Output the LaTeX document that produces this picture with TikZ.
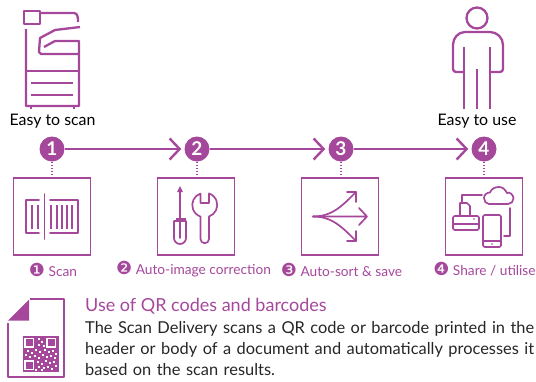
\documentclass[tikz,border=0pt]{standalone}
\usepackage{fontspec}
\setmainfont{Lato}
\newfontfamily\dingfont{DejaVu Sans}
\usetikzlibrary{arrows.meta, calc}
\definecolor{plum}{HTML}{A5489B}
\definecolor{inktext}{HTML}{262626}
\tikzset{
    stepdot/.style={circle, fill=plum, text=white, inner sep=0pt, minimum size=25pt, font=\bfseries\fontsize{19}{19}\selectfont},
    stepbox/.style={draw=plum, line width=1.7pt, minimum size=77pt, inner sep=0pt},
    steplabel/.style={text=plum, font=\fontsize{13.7}{15}\selectfont, inner sep=0pt},
    easylabel/.style={text=black, font=\fontsize{15.9}{18}\selectfont, inner sep=0pt},
    flow/.style={draw=plum, line width=2.8pt, shorten >=3pt, -{Straight Barb[length=10pt,width=21pt,line width=2.4pt]}},
    dots/.style={draw=plum, line width=1.3pt, dash pattern=on 1.3pt off 1.8pt},
    icon/.style={draw=plum, line width=1.7pt, line cap=round, line join=round},
    big icon/.style={draw=plum, line width=2.3pt, line join=round},
    thick icon/.style={draw=plum, line width=2.8pt},
}
\newcommand{\dingnum}[1]{{\dingfont\fontsize{18}{15}\selectfont #1}}
\begin{document}
\begin{tikzpicture}[x=1pt, y=-1pt]
    \useasboundingbox (0,0) rectangle (536,381);

    % steps
    \node[stepdot] (one) at (52,149) {1};
    \node[stepdot] (two) at (197,149) {2};
    \node[stepdot] (three) at (341,149) {3};
    \node[stepdot] (four) at (484,149) {4};
    \draw[flow] (one) -- (two);
    \draw[flow] (two) -- (three);
    \draw[flow] (three) -- (four);

    \node[stepbox] (scanbox) at (52,216.5) {};
    \node[stepbox] (fixbox) at (196,216.5) {};
    \node[stepbox] (sortbox) at (340,216.5) {};
    \node[stepbox] (sharebox) at (484,216.5) {};
    \draw[dots] (one) -- (scanbox);
    \draw[dots] (two) -- (two |- fixbox.north);
    \draw[dots] (three) -- (three |- sortbox.north);
    \draw[dots] (four) -- (sharebox);

    \node[easylabel] (easyscan) at (52.5,121) {Easy to scan};
    \node[easylabel] (easyuse) at (477,121) {Easy to use};

    \node[steplabel] (scanlabel) at (53,269.5) {\dingnum{❶} Scan};
    \node[steplabel] (fixlabel) at (193.5,269.5) {\dingnum{❷} Auto-image correction};
    \node[steplabel] (sortlabel) at (341.5,269.5) {\dingnum{❸} Auto-sort \& save};
    \node[steplabel] (sharelabel) at (484.5,269.5) {\dingnum{❹} Share / utilise};

    % copier
    \draw[big icon] (24,11) rectangle (40,24);
    \draw[big icon] (41,13) -- (74,13) to[out=0,in=90] (78,22);
    \draw[big icon] (26,29) -- (26,106) -- (79,106) -- (79,41) -- (55,41) -- (44,47);
    \draw[big icon] (80,27) -- (55,30) -- (40,38) -- (39,52) -- (41,54) -- (79,54);
    \draw[big icon] (26,71) -- (79,71);
    \draw[thick icon] (31,83) -- (73,83) (31,95) -- (73,95);
    \draw[thick icon] (31,106) -- (31,109) (74,106) -- (74,109);

    % person
    \draw[big icon] (477,18) circle (10.5);
    \draw[big icon] (464,72) -- (456,72) to[out=180,in=-90] (453,69) -- (453,45)
        to[out=90,in=180] (465,32) -- (490,32) to[out=0,in=90] (503,45) -- (503,69)
        to[out=-90,in=0] (500,72) -- (490,72);
    \draw[big icon] (464,47) -- (464,109) (490,47) -- (490,109);
    \draw[thick icon] (477,69) -- (477,109);

    % scan icon
    \draw[icon] (39,200) -- (26,200) -- (26,233) -- (39,233);
    \draw[icon] (50,200) -- (78,200) -- (78,233) -- (50,233);
    \draw[icon] (44.5,194) -- (44.5,239);
    \foreach \barx in {32,38,51,57,62,67,72}
        \draw[thick icon, line width=2pt] (\barx,205) -- (\barx,229);

    % screwdriver and spanner
    \draw[icon] (180,191) -- (180,218);
    \fill[plum] (177,192) -- (180,186) -- (183,192) -- cycle;
    \fill[plum] (175.5,218) rectangle (185.5,222);
    \draw[icon] (174,221) -- (186,221) -- (186,238) arc[start angle=0,end angle=180,radius=6] -- cycle;
    \draw[icon] (180,222) -- (180,238);
    \draw[icon] (200.5,193.5) arc[start angle=251,end angle=109,radius=12.2] -- (200.5,239)
        arc[start angle=180,end angle=0,radius=4.25] -- (209,216.5)
        arc[start angle=71,end angle=-71,radius=12.2] -- (209,203) -- (200.5,203) -- cycle;

    % sort arrows
    \draw[icon] (313,216.5) -- (367,216.5) (359,208) -- (367,216.5) -- (359,225);
    \draw[icon] (313,216.5) to[out=0,in=225] (356,192);
    \draw[icon] (313,216.5) to[out=0,in=135] (356,241);
    \draw[icon] (347,192) -- (356,192) -- (356,202);
    \draw[icon] (347,241) -- (356,241) -- (356,231);

    % share icon
    \draw[icon] (482,195) -- (462,195) -- (462,202);
    \draw[icon] (460,216) -- (460,203) -- (467,203) -- (470,206) -- (470,216);
    \draw[icon, rounded corners=1.5pt] (453,216) rectangle (479,230);
    \draw[icon] (453,224) -- (479,224);
    \fill[plum] (474,219) circle (0.9);
    \draw[icon, rounded corners=1.5pt] (483,215) rectangle (501,247);
    \draw[icon] (483,241) -- (501,241);
    \fill[plum] (492,244) circle (0.9);
    \draw[icon] (489,204) to[out=180,in=-90] (484,198) to[out=90,in=180] (490,192.5)
        to[out=70,in=180] (499,187) to[out=0,in=120] (507,193)
        to[out=30,in=90] (513.5,198.5) to[out=-90,in=0] (508,204) -- cycle;
    \draw[icon] (510,208) -- (510,236) -- (504,236);

    % document with code
    \fill[plum] (29,299.5) -- (29,320.5) -- (8,320.5) -- cycle;
    \draw[big icon] (30,299) -- (64,299) -- (64,377) -- (8,377) -- (8,323);
    \fill[plum] (22.5,336) rectangle (58.5,372);
    \foreach \fx/\fy in {25/338.5, 47/338.5, 25/361}
        \draw[white, line width=1.1pt] (\fx,\fy) rectangle +(8.5,8.5);
    \foreach \cx/\cy in {38/338, 41/341, 38/344, 43/345, 27/350, 31/352, 35/349, 39/351, 44/349, 48/351,
        52/350, 55/353, 25/354, 29/356, 34/355, 38/357, 42/354, 46/356, 50/355, 54/357, 37/361, 41/363,
        45/360, 49/362, 53/361, 38/366, 43/367, 47/366, 51/368, 55/365, 35/369, 41/369}
        \fill[white] (\cx,\cy) rectangle +(2.2,1.6);

    \node[anchor=north west, inner sep=0pt, text=plum, font=\fontsize{18}{21}\selectfont] (qrtitle) at (85,298.5) {Use of QR codes and barcodes};
    \node[anchor=north west, inner sep=0pt, text=inktext, text width=455pt, align=left, font=\fontsize{16.4}{20.7}\selectfont] (qrbody) at (85,321.5)
        {The Scan Delivery scans a QR code or barcode printed in the\\header or body of a document and automatically processes it\\based on the scan results.};
\end{tikzpicture}
\end{document}
